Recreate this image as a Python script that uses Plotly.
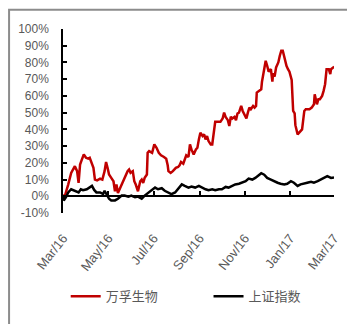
import plotly.graph_objects as go

# 万孚生物 (cumulative return, %)
red_dates = [
    "2016-03-01", "2016-03-04", "2016-03-08", "2016-03-12", "2016-03-17", "2016-03-20", "2016-03-22",
    "2016-03-24", "2016-03-26", "2016-03-29", "2016-04-01", "2016-04-04", "2016-04-06", "2016-04-08",
    "2016-04-11", "2016-04-13", "2016-04-16", "2016-04-20", "2016-04-23", "2016-04-26", "2016-04-28",
    "2016-04-30", "2016-05-02", "2016-05-05", "2016-05-08", "2016-05-10", "2016-05-12", "2016-05-14",
    "2016-05-17", "2016-05-19", "2016-05-22", "2016-05-25", "2016-05-27", "2016-05-29", "2016-05-31",
    "2016-06-03", "2016-06-05", "2016-06-07", "2016-06-10", "2016-06-13", "2016-06-15", "2016-06-17",
    "2016-06-19", "2016-06-22", "2016-06-23", "2016-06-25", "2016-06-29", "2016-07-02", "2016-07-05",
    "2016-07-08", "2016-07-11", "2016-07-15", "2016-07-18", "2016-07-20", "2016-07-21", "2016-07-24",
    "2016-07-27", "2016-07-31", "2016-08-03", "2016-08-05", "2016-08-07", "2016-08-10", "2016-08-12",
    "2016-08-14", "2016-08-17", "2016-08-19", "2016-08-21", "2016-08-24", "2016-08-27", "2016-08-29",
    "2016-08-31", "2016-09-02", "2016-09-05", "2016-09-07", "2016-09-09", "2016-09-11", "2016-09-13",
    "2016-09-16", "2016-09-18", "2016-09-20", "2016-09-22", "2016-09-25", "2016-09-29", "2016-10-02",
    "2016-10-04", "2016-10-06", "2016-10-09", "2016-10-11", "2016-10-13", "2016-10-15", "2016-10-18",
    "2016-10-20", "2016-10-22", "2016-10-24", "2016-10-27", "2016-10-29", "2016-10-31", "2016-11-03",
    "2016-11-05", "2016-11-07", "2016-11-09", "2016-11-12", "2016-11-14", "2016-11-16", "2016-11-17",
    "2016-11-21", "2016-11-23", "2016-11-24", "2016-11-27", "2016-11-29", "2016-12-01", "2016-12-03",
    "2016-12-06", "2016-12-08", "2016-12-09", "2016-12-11", "2016-12-13", "2016-12-16", "2016-12-18",
    "2016-12-20", "2016-12-22", "2016-12-25", "2016-12-27", "2016-12-29", "2016-12-31", "2017-01-03",
    "2017-01-04", "2017-01-05", "2017-01-07", "2017-01-08", "2017-01-11", "2017-01-13", "2017-01-15",
    "2017-01-17", "2017-01-20", "2017-01-22", "2017-01-27", "2017-01-30", "2017-02-02", "2017-02-03",
    "2017-02-06", "2017-02-08", "2017-02-10", "2017-02-13", "2017-02-15", "2017-02-17", "2017-02-19",
    "2017-02-22", "2017-02-24", "2017-02-25", "2017-02-28", "2017-03-01",
]
red_values = [
    0, 1, 7, 14, 18, 15, 8,
    19, 21.5, 25, 23, 22.5, 23, 20.5,
    17, 10, 9.5, 10.5, 10, 15, 20.5,
    17, 13, 11, 9, 3, 7, 2,
    5, 8, 11, 13, 15, 16, 14,
    15, 9, 7, 3, 9, 10, 8,
    11, 13, 26, 27, 26, 31, 29,
    26, 24.5, 23.5, 22.5, 18.5, 15, 14,
    15, 17, 17.5, 18.5, 20.5, 19.5, 22.5,
    24.5, 23.5, 31, 28, 25, 28, 29,
    34, 38, 36, 37, 34, 36, 33,
    31, 31, 38, 44.5, 44.5, 44.5, 46.5,
    50, 47.5, 45.5, 42, 47.5, 46.5, 47.5,
    45.5, 49.5, 50, 54, 51, 49.5, 46.5,
    50, 53, 52, 54, 53, 54, 62,
    63, 64, 68.5, 75, 81, 78, 74.5,
    76, 68.5, 73.5, 71.5, 77, 80, 84,
    87, 87, 81, 78, 76, 74.5, 69.5,
    61, 51, 49.5, 42.5, 37, 38, 39,
    40, 51, 52, 52, 53, 55, 61,
    55, 58, 58, 60, 63, 67, 76,
    76, 73, 76, 77, 76.5,
]

# 上证指数 (cumulative return, %)
black_dates = [
    "2016-03-01", "2016-03-02", "2016-03-05", "2016-03-08", "2016-03-12", "2016-03-17", "2016-03-22",
    "2016-03-25", "2016-03-28", "2016-04-02", "2016-04-06", "2016-04-09", "2016-04-12", "2016-04-15",
    "2016-04-20", "2016-04-24", "2016-04-26", "2016-04-29", "2016-05-02", "2016-05-05", "2016-05-10",
    "2016-05-14", "2016-05-19", "2016-05-23", "2016-05-28", "2016-06-01", "2016-06-06", "2016-06-10",
    "2016-06-15", "2016-06-19", "2016-06-24", "2016-06-28", "2016-07-03", "2016-07-07", "2016-07-12",
    "2016-07-16", "2016-07-21", "2016-07-25", "2016-07-30", "2016-08-03", "2016-08-08", "2016-08-12",
    "2016-08-17", "2016-08-21", "2016-08-26", "2016-08-31", "2016-09-04", "2016-09-09", "2016-09-13",
    "2016-09-18", "2016-09-22", "2016-09-27", "2016-10-01", "2016-10-06", "2016-10-10", "2016-10-15",
    "2016-10-19", "2016-10-24", "2016-10-28", "2016-11-02", "2016-11-06", "2016-11-11", "2016-11-15",
    "2016-11-20", "2016-11-23", "2016-11-27", "2016-12-01", "2016-12-06", "2016-12-10", "2016-12-15",
    "2016-12-19", "2016-12-24", "2016-12-28", "2017-01-02", "2017-01-06", "2017-01-11", "2017-01-15",
    "2017-01-20", "2017-01-24", "2017-01-29", "2017-02-02", "2017-02-07", "2017-02-11", "2017-02-16",
    "2017-02-20", "2017-02-25", "2017-03-01",
]
black_values = [
    0, -2.5, -0.5, 2.3, 4.2, 3.3, 2.3,
    4.2, 3.6, 4.2, 5.2, 6.2, 3.8, 2.3,
    2.3, 1.3, 3.3, 0.4, -1.5, -2.5, -2.5,
    -1.5, 0.4, 0.4, -0.2, 0.4, -0.6, -0.2,
    -1.5, 0.4, 2.3, 3.3, 5.2, 4.2, 4.8,
    3.3, 2.3, 1.3, 2.3, 4.2, 7.1, 6.2,
    5.2, 5.8, 5.2, 6.2, 5.2, 4.2, 3.6,
    4.2, 3.6, 4.2, 4.2, 5.6, 5.2, 6.2,
    7.1, 7.5, 8.1, 9, 10.6, 10, 11,
    12.9, 13.8, 12.9, 11, 10, 9, 8.1,
    7.5, 7.1, 7.5, 9, 8.1, 6.2, 7.1,
    7.5, 8.1, 8.7, 8.1, 9, 10, 11,
    12, 11, 11.3,
]

tick_dates = ["2016-03-01", "2016-05-01", "2016-07-01", "2016-09-01",
              "2016-11-01", "2017-01-01", "2017-03-01"]
tick_labels = ["Mar/16", "May/16", "Jul/16", "Sep/16", "Nov/16", "Jan/17", "Mar/17"]
y_ticks = [-10, 0, 10, 20, 30, 40, 50, 60, 70, 80, 90, 100]
y_labels = ["-10%", "0%", "10%", "20%", "30%", "40%", "50%", "60%", "70%", "80%", "90%", "100%"]

GRAY = "#595959"
FONT = "Liberation Sans, Noto Sans CJK SC, sans-serif"
LEG_FONT = dict(family="Noto Sans CJK SC, sans-serif", size=13, color=GRAY)

fig = go.Figure()
fig.add_trace(go.Scatter(x=red_dates, y=red_values, mode="lines", name="万孚生物",
                         line=dict(color="#C00000", width=2.5), xaxis="x", yaxis="y",
                         legend="legend"))
fig.add_trace(go.Scatter(x=black_dates, y=black_values, mode="lines", name="上证指数",
                         line=dict(color="#000000", width=2.5), xaxis="x2", yaxis="y",
                         legend="legend2"))

xr = ["2016-03-01", "2017-03-01"]
fig.update_layout(
    template="none",
    width=347, height=324,
    margin=dict(l=63, r=13, t=29, b=105),
    paper_bgcolor="white", plot_bgcolor="white",
    font=dict(family=FONT, color=GRAY, size=12),
    showlegend=True,
    legend=dict(orientation="h", x=0.01, xanchor="left", y=-0.453, yanchor="middle",
                font=LEG_FONT, bgcolor="rgba(0,0,0,0)", borderwidth=0),
    legend2=dict(orientation="h", x=0.537, xanchor="left", y=-0.453, yanchor="middle",
                 font=LEG_FONT, bgcolor="rgba(0,0,0,0)", borderwidth=0),
    xaxis=dict(type="date", range=xr, tickvals=tick_dates, ticktext=tick_labels,
               tickangle=-52, showline=False, ticks="", showgrid=False, zeroline=False,
               tickfont=dict(size=13, color=GRAY), ticklabelstandoff=14),
    xaxis2=dict(type="date", range=xr, matches="x", overlaying="x", anchor="free",
                position=10 / 110, tickvals=tick_dates, showticklabels=False,
                showline=True, linecolor="black", linewidth=1.5,
                ticks="inside", ticklen=5, tickwidth=1.5, tickcolor="black",
                showgrid=False, zeroline=False),
    yaxis=dict(range=[-10, 100], tickvals=y_ticks, ticktext=y_labels,
               showline=True, linecolor="black", linewidth=1.5,
               ticks="inside", ticklen=4, tickwidth=1.5, tickcolor="black",
               showgrid=False, zeroline=False, tickfont=dict(size=12, color=GRAY),
               ticklabelstandoff=10),
    shapes=[dict(type="rect", xref="paper", yref="paper",
                 x0=-0.199, x1=1.3, y0=-1.0, y1=1.105,
                 line=dict(color="#8c8c8c", width=2), layer="below")],
)

fig.write_html("out.html")
